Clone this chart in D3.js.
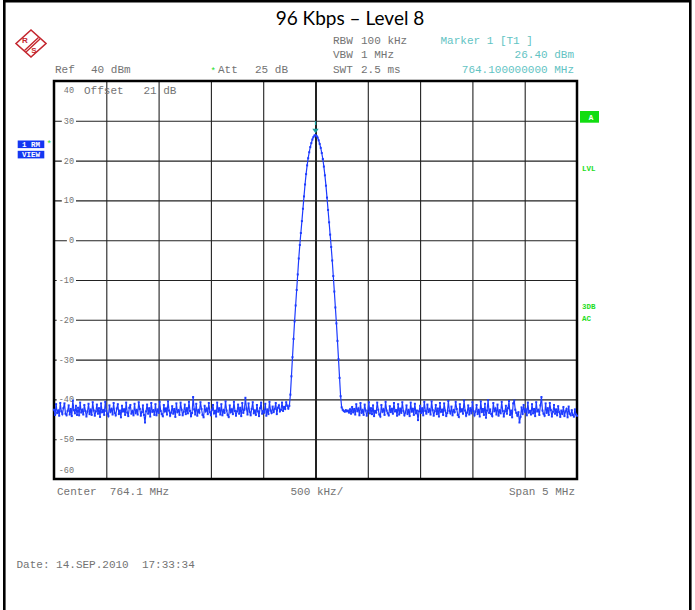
<!DOCTYPE html>
<html>
<head>
<meta charset="utf-8">
<script src="https://cdn.jsdelivr.net/npm/d3@7"></script>
<style>
  body { margin: 0; background: #fff; }
  svg { display: block; }
  text { white-space: pre; }
  .mono { font-family: "Liberation Mono", "DejaVu Sans Mono", monospace; }
</style>
</head>
<body>
<div id="chartCtn"></div>
<script>
// sweep setup (center 764.1 MHz, span 5 MHz, 501 points)
const titleText = "96 Kbps \u2013 Level 8";
const startMHz = 761.6;
const spanMHz = 5;
const sweepPoints = 501;
const yTicks = [ 40, 30, 20, 10, 0, -10, -20, -30, -40, -50, -60 ];
const markerFreq = 764.1;
const markerLevel = 26.40;

// trace levels in dBm
const noiseLeft = [
	-42.6,-43.9,-41.2,-43.4,-42.8,-44.1,-40.9,-43.0,-43.7,-42.2,-41.0,-43.6,-44.0,-42.9,-41.5,
	-43.8,-42.4,-44.2,-40.3,-42.7,-43.5,-41.6,-43.9,-42.1,-44.0,-40.8,-43.3,-42.6,-43.8,-41.4,
	-42.9,-44.3,-43.1,-41.1,-43.7,-42.5,-43.9,-40.7,-42.8,-44.1,-43.0,-41.3,-43.6,-42.2,-44.4,
	-41.0,-43.2,-42.7,-43.9,-40.6,-42.9,-43.6,-44.2,-41.5,-43.1,-42.4,-43.8,-40.9,-43.4,-44.0,
	-42.3,-41.2,-43.7,-42.8,-44.5,-41.6,-43.0,-42.5,-43.9,-40.8,-43.3,-44.2,-42.1,-41.4,-43.6,
	-42.9,-44.0,-41.1,-43.5,-42.6,-43.8,-40.7,-42.4,-44.1,-43.2,-41.5,-43.9,-45.8,-43.0,-41.3,
	-43.6,-42.2,-44.3,-40.9,-43.1,-42.7,-43.9,-41.2,-44.0,-42.5,-43.4,-40.6,-42.9,-43.7,-44.2,
	-41.4,-43.0,-42.3,-43.8,-40.5,-42.8,-44.1,-43.3,-41.7,-43.6,-42.4,-44.4,-41.0,-43.2,-42.7,
	-43.9,-40.8,-42.6,-44.0,-43.1,-41.3,-43.7,-42.2,-43.5,-40.6,-42.9,-44.2,-43.4,-39.4,-42.5,
	-43.8,-41.1,-44.1,-42.7,-43.3,-40.7,-42.4,-43.9,-44.5,-41.6,-43.0,-42.3,-43.7,-40.9,-43.2,
	-44.0,-42.6,-41.4,-43.5,-42.9,-44.3,-40.8,-43.1,-42.2,-43.8,-41.2,-44.0,-42.7,-43.4,-40.5,
	-42.8,-43.9,-44.4,-41.5,-43.2,-42.5,-43.7,-40.6,-42.9,-44.1,-43.0,-41.3,-43.6,-42.1,-44.2,
	-40.9,-43.4,-42.6,-39.6,-42.3,-43.8,-41.0,-43.1,-44.0,-42.4,-40.7,-43.5,-42.8,-43.9,-41.4,
	-43.0,-44.2,-42.2,-40.8,-43.6,-42.9,-43.3,-41.1,-44.1,-42.5,-43.7,-40.6,-42.8,-43.4,-41.8,
	-43.2,-42.4,-40.9,-43.7,-42.1,-41.5,-43.0,-42.6,-40.8,-42.9,-41.9,-42.4,-40.7,-41.6,-42.3
];
const lobe = [
	-41.6,-38.8,-34.2,-29.4,-24.8,-20.4,-16.4,-12.5,-8.6,-4.6,-1.2,1.8,4.8,
	7.9,11.0,14.0,16.6,18.8,20.6,22.1,23.4,24.4,25.3,25.9,26.3,
	26.4,
	26.2,25.8,25.1,24.2,23.2,21.9,20.4,18.5,16.3,13.7,10.7,7.6,
	4.5,1.4,-1.7,-5.1,-9.0,-12.9,-16.9,-20.9,-25.3,-29.9,-34.6,-39.2,-42.0
];
const noiseRight = [
	-42.6,-42.9,-43.1,-42.7,-43.0,-42.8,-43.3,-42.5,-43.6,-41.9,-43.2,-42.4,-43.8,-41.2,-43.0,
	-42.3,-44.0,-40.9,-43.4,-42.7,-43.9,-41.3,-42.8,-44.1,-43.0,-40.7,-43.5,-42.2,-43.7,-41.5,
	-44.2,-42.9,-43.3,-40.8,-42.6,-43.8,-44.3,-41.4,-43.1,-42.5,-43.9,-40.6,-42.8,-43.5,-44.0,
	-41.7,-43.2,-42.4,-43.6,-40.9,-43.0,-42.7,-44.1,-41.2,-43.8,-42.3,-43.4,-40.7,-42.9,-44.0,
	-43.3,-41.5,-43.7,-42.6,-44.2,-40.8,-43.1,-42.4,-43.9,-41.1,-43.5,-42.8,-45.2,-43.0,-41.6,
	-43.4,-42.2,-44.0,-40.6,-42.9,-43.6,-41.3,-43.2,-42.5,-43.8,-40.5,-42.7,-44.1,-43.0,-41.4,
	-43.7,-42.3,-44.3,-40.9,-43.1,-42.6,-43.9,-41.0,-42.8,-44.2,-43.4,-40.4,-42.9,-43.5,-41.8,
	-44.0,-42.7,-43.2,-40.6,-42.4,-43.9,-44.4,-41.2,-43.0,-42.5,-43.6,-40.3,-42.8,-44.1,-43.3,
	-41.5,-43.8,-42.2,-43.5,-40.7,-42.9,-44.0,-43.1,-41.4,-43.7,-42.6,-44.3,-40.5,-43.2,-42.4,
	-43.9,-41.1,-44.6,-42.8,-40.2,-43.4,-42.5,-43.7,-44.2,-40.9,-43.0,-42.3,-43.8,-41.3,-44.1,
	-42.7,-43.5,-40.6,-42.9,-44.3,-43.0,-41.6,-43.6,-42.2,-40.4,-43.9,-42.8,-44.5,-41.0,-40.3,
	-42.6,-43.4,-44.1,-43.2,-45.8,-44.4,-42.0,-43.7,-41.4,-43.1,-42.5,-44.0,-40.8,-43.3,-42.9,
	-43.8,-41.2,-43.5,-42.4,-44.2,-40.7,-43.0,-42.6,-43.9,-41.5,-39.4,-42.8,-43.6,-44.1,-41.0,
	-43.4,-42.2,-43.9,-40.9,-42.7,-44.3,-43.1,-41.4,-43.6,-42.5,-44.0,-41.7,-43.2,-44.4,-42.8,
	-43.7,-41.9,-44.2,-43.0,-42.4,-44.5,-41.8,-43.6,-44.0,-42.7,-43.9,-44.3,-42.5,-43.8,-44.1
];

const levels = noiseLeft.concat( lobe, noiseRight );
const trace = levels.map( ( v, i ) => ( { f: startMHz + i * spanMHz / ( sweepPoints - 1 ), v: v } ) );

const W = 695, H = 610;
const plot = { left: 54, right: 577, top: 81, bottom: 479 };
const gray = "#737373", cyan = "#62c3c3", green = "#22dd22", blue = "#1e3cff";

const svg = d3.select( "#chartCtn" )
	.append( "svg" )
	.attr( "width", W )
	.attr( "height", H );

// page frame
svg.append( "rect" )
	.attr( "x", 4.3 ).attr( "y", 1.2 )
	.attr( "width", 686 ).attr( "height", 640 )
	.attr( "fill", "none" )
	.attr( "stroke", "#000" )
	.attr( "stroke-width", 2.6 );

const x = d3.scaleLinear()
	.domain( [ startMHz, startMHz + spanMHz ] )
	.range( [ plot.left, plot.right ] );

const y = d3.scaleLinear()
	.domain( [ -60, 40 ] )
	.range( [ plot.bottom, plot.top ] );

const xDivs = d3.range( 11 ).map( i => startMHz + i * spanMHz / 10 );

// vertical grid
const xGrid = svg.append( "g" )
	.attr( "transform", `translate(0, ${ plot.bottom } )` )
	.call( d3.axisBottom( x ).tickValues( xDivs.slice( 1, 10 ) ).tickSize( -( plot.bottom - plot.top ) ).tickFormat( "" ) );
xGrid.select( ".domain" ).remove();
xGrid.selectAll( "line" )
	.attr( "stroke", "#222" )
	.attr( "stroke-width", ( d, i ) => i === 4 ? 2 : 1.1 );

// horizontal grid
const yGrid = svg.append( "g" )
	.attr( "transform", `translate( ${ plot.left } , 0 )` )
	.call( d3.axisLeft( y ).tickValues( yTicks.slice( 1, 10 ) ).tickSize( -( plot.right - plot.left ) ).tickFormat( "" ) );
yGrid.select( ".domain" ).remove();
yGrid.selectAll( "line" ).attr( "stroke", "#222" ).attr( "stroke-width", 1.1 );

// level labels sit inside the grid, lines broken behind them
const labelG = svg.append( "g" ).attr( "class", "mono" );
yTicks.forEach( v => {
	let ly = y( v );
	if ( v === 40 ) ly += 9.5;
	if ( v === -60 ) ly -= 8.5;
	const t = labelG.append( "text" )
		.attr( "x", 74 )
		.attr( "y", ly )
		.attr( "dy", "0.35em" )
		.attr( "text-anchor", "end" )
		.attr( "fill", gray )
		.style( "font-size", "8.5px" )
		.text( v );
	const b = t.node().getBBox();
	labelG.insert( "rect", () => t.node() )
		.attr( "x", b.x - 2 ).attr( "y", ly - 3 )
		.attr( "width", b.width + 4 ).attr( "height", 6 )
		.attr( "fill", "#fff" );
} );

labelG.append( "text" )
	.attr( "x", 84 ).attr( "y", y( 40 ) + 9.5 ).attr( "dy", "0.35em" )
	.attr( "fill", gray ).style( "font-size", "11px" )
	.text( "Offset   21 dB" );

// plot border
svg.append( "rect" )
	.attr( "x", plot.left ).attr( "y", plot.top )
	.attr( "width", plot.right - plot.left ).attr( "height", plot.bottom - plot.top )
	.attr( "fill", "none" )
	.attr( "stroke", "#000" )
	.attr( "stroke-width", 2.5 );

// trace
const line = d3.line().x( d => x( d.f ) ).y( d => y( d.v ) );
svg.append( "path" )
	.datum( trace )
	.attr( "d", line )
	.attr( "fill", "none" )
	.attr( "stroke", blue )
	.attr( "stroke-width", 1.2 );

svg.append( "g" )
	.selectAll( "rect" )
	.data( trace )
	.enter()
	.append( "rect" )
	.attr( "x", d => x( d.f ) - 1 )
	.attr( "y", d => y( d.v ) - 1 )
	.attr( "width", 2 )
	.attr( "height", 2 )
	.attr( "fill", blue );

// marker 1
const mx = x( markerFreq ), my = y( markerLevel );
svg.append( "path" )
	.attr( "d", `M${ mx - 3.2 },${ my - 6.5 } L${ mx + 3.2 },${ my - 6.5 } L${ mx },${ my - 2 } Z` )
	.attr( "fill", "#1a9e9e" );
svg.append( "rect" )
	.attr( "x", mx - 0.6 ).attr( "y", my - 14 )
	.attr( "width", 1.3 ).attr( "height", 4 )
	.attr( "fill", "#1a9e9e" );

// header / footer texts
const txt = ( tx, ty, s, color, anchor ) => svg.append( "text" )
	.attr( "class", "mono" )
	.attr( "x", tx ).attr( "y", ty )
	.attr( "text-anchor", anchor || "start" )
	.attr( "fill", color )
	.style( "font-size", "11px" )
	.text( s );

txt( 55, 73, "Ref", gray );
txt( 91, 73, "40 dBm", gray );
txt( 218, 73, "Att", gray );
txt( 255, 73, "25 dB", gray );
txt( 333, 43.5, "RBW", gray );
txt( 361, 43.5, "100 kHz", gray );
txt( 333, 57.5, "VBW", gray );
txt( 361, 57.5, "1 MHz", gray );
txt( 333, 72.5, "SWT", gray );
txt( 361, 72.5, "2.5 ms", gray );
txt( 440.5, 43.5, "Marker 1 [T1 ]", cyan );
txt( 574, 57.5, markerLevel.toFixed( 2 ) + " dBm", cyan, "end" );
txt( 574, 72.5, markerFreq.toFixed( 9 ) + " MHz", cyan, "end" );
txt( 57, 495, "Center  764.1 MHz", gray );
txt( 290.5, 495, "500 kHz/", gray );
txt( 575, 495, "Span 5 MHz", gray, "end" );
txt( 16.5, 567.5, "Date: 14.SEP.2010  17:33:34", gray );

svg.append( "text" ).attr( "class", "mono" )
	.attr( "x", 213.3 ).attr( "y", 74 ).attr( "text-anchor", "middle" )
	.attr( "fill", green ).style( "font-size", "9px" ).text( "*" );

// title
svg.append( "text" )
	.attr( "x", 350 ).attr( "y", 24.5 )
	.attr( "text-anchor", "middle" )
	.attr( "fill", "#000" )
	.style( "font-family", "Lato, 'Open Sans', sans-serif" )
	.style( "font-size", "19px" )
	.text( titleText );

// trace status boxes on the left
[ [ "1 RM", 140.5 ], [ "VIEW", 150.8 ] ].forEach( ( b ) => {
	svg.append( "rect" )
		.attr( "x", 17.7 ).attr( "y", b[1] )
		.attr( "width", 26.6 ).attr( "height", 7.6 )
		.attr( "fill", "#1437f2" );
	svg.append( "text" ).attr( "class", "mono" )
		.attr( "x", 31 ).attr( "y", b[1] + 6.2 )
		.attr( "text-anchor", "middle" )
		.attr( "fill", "#fff" )
		.style( "font-size", "7.5px" ).style( "font-weight", "bold" )
		.text( b[0] );
} );
svg.append( "text" ).attr( "class", "mono" )
	.attr( "x", 49.3 ).attr( "y", 147 ).attr( "text-anchor", "middle" )
	.attr( "fill", green ).style( "font-size", "9px" ).text( "*" );

// right side enhancement labels
svg.append( "rect" )
	.attr( "x", 580 ).attr( "y", 111 )
	.attr( "width", 19 ).attr( "height", 11.7 )
	.attr( "fill", "#11dd11" );
svg.append( "text" ).attr( "class", "mono" )
	.attr( "x", 591 ).attr( "y", 119.5 ).attr( "text-anchor", "middle" )
	.attr( "fill", "#fff" ).style( "font-size", "7.5px" ).style( "font-weight", "bold" )
	.text( "A" );
[ [ "LVL", 170.5 ], [ "3DB", 308.5 ], [ "AC", 320.5 ] ].forEach( ( s ) => {
	svg.append( "text" ).attr( "class", "mono" )
		.attr( "x", 582 ).attr( "y", s[1] )
		.attr( "fill", green ).style( "font-size", "7.5px" ).style( "font-weight", "bold" )
		.text( s[0] );
} );

// R&S logo
const logo = svg.append( "g" ).attr( "transform", "translate(31, 43.5)" );
logo.append( "path" )
	.attr( "d", "M-15,0 L0,-13.5 L15,0 L0,13.5 Z" )
	.attr( "fill", "none" )
	.attr( "stroke", "#c4262e" )
	.attr( "stroke-width", 1.6 );
logo.append( "path" )
	.attr( "d", "M-6.5,7 L7.5,-6 M-5,8.5 L9,-4.5" )
	.attr( "stroke", "#c4262e" )
	.attr( "stroke-width", 1.4 );
logo.append( "text" )
	.attr( "x", -6 ).attr( "y", -0.5 ).attr( "text-anchor", "middle" )
	.attr( "fill", "#c4262e" )
	.style( "font-family", "Liberation Sans, sans-serif" )
	.style( "font-size", "8px" ).style( "font-weight", "bold" )
	.text( "R" );
logo.append( "text" )
	.attr( "x", 3 ).attr( "y", 9 ).attr( "text-anchor", "middle" )
	.attr( "fill", "#c4262e" )
	.style( "font-family", "Liberation Sans, sans-serif" )
	.style( "font-size", "8px" ).style( "font-weight", "bold" )
	.text( "S" );
</script>
</body>
</html>
